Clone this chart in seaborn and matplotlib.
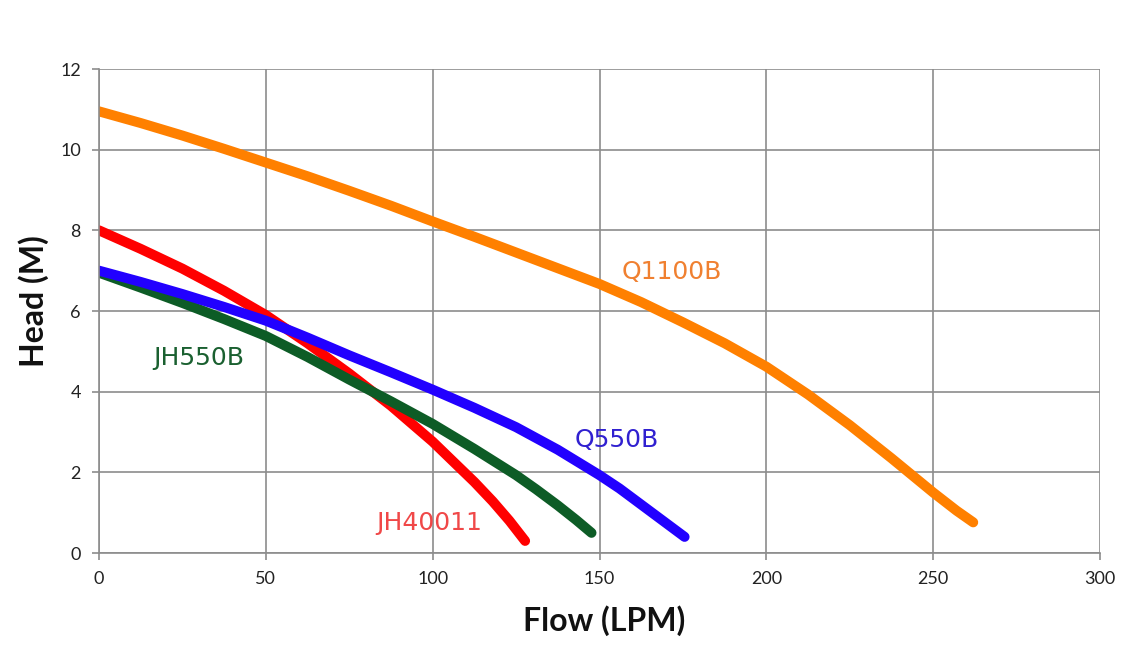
import matplotlib
matplotlib.use("Agg")
import matplotlib.pyplot as plt
import seaborn as sns
import pandas as pd

# Data
q1100b_flow = [0, 12.5, 25, 37.5, 50, 62.5, 75, 87.5, 100, 112.5, 125, 137.5, 150,
               162.5, 175, 187.5, 200, 212.5, 225, 237.5, 250, 257, 262]
q1100b_head = [10.95, 10.66, 10.35, 10.02, 9.68, 9.34, 8.98, 8.61, 8.22, 7.84, 7.45, 7.06, 6.67,
               6.22, 5.72, 5.2, 4.62, 3.93, 3.17, 2.35, 1.5, 1.05, 0.76]

jh40011_flow = [0, 12.5, 25, 37.5, 50, 62.5, 75, 87.5, 100, 106, 112.5, 118, 123, 127.7]
jh40011_head = [8.0, 7.54, 7.05, 6.5, 5.9, 5.2, 4.45, 3.65, 2.76, 2.28, 1.76, 1.28, 0.8, 0.3]

jh550b_flow = [0, 12.5, 25, 37.5, 50, 62.5, 75, 87.5, 100, 112.5, 125, 131, 137.5, 143, 147.6]
jh550b_head = [6.95, 6.58, 6.2, 5.8, 5.38, 4.86, 4.3, 3.76, 3.2, 2.58, 1.93, 1.58, 1.18, 0.82, 0.5]

q550b_flow = [0, 12.5, 25, 37.5, 50, 62.5, 75, 87.5, 100, 112.5, 125, 137.5, 150,
              156, 162.5, 169, 175.5]
q550b_head = [7.0, 6.72, 6.42, 6.1, 5.76, 5.34, 4.9, 4.48, 4.05, 3.6, 3.12, 2.56, 1.93,
              1.6, 1.2, 0.8, 0.4]

x_ticks = [0, 50, 100, 150, 200, 250, 300]
y_ticks = [0, 2, 4, 6, 8, 10, 12]

series = [
    ("Q1100B", q1100b_flow, q1100b_head, "#FF8000", "#F08030", (156.5, 6.97)),
    ("JH40011", jh40011_flow, jh40011_head, "#FF0000", "#F04848", (83, 0.74)),
    ("JH550B", jh550b_flow, jh550b_head, "#0D5C26", "#1A6030", (16.2, 4.83)),
    ("Q550B", q550b_flow, q550b_head, "#2200FF", "#3020D0", (142.6, 2.8)),
]

sns.set_theme(style="white")
plt.rcParams['font.family'] = ['DejaVu Sans']

fig = plt.figure(figsize=(11.3, 6.48), dpi=100)
ax = fig.add_axes([99/1130, 1 - 553/648, (1100 - 99)/1130, (553 - 69)/648])

for name, fx, hy, col, lcol, pos in series:
    df = pd.DataFrame({"flow": fx, "head": hy})
    sns.lineplot(data=df, x="flow", y="head", ax=ax, color=col, linewidth=7.2,
                 sort=False, solid_capstyle="round", solid_joinstyle="round")
    ax.text(pos[0], pos[1], name, color=lcol, fontsize=18, ha="left", va="center",
            family=["DejaVu Sans"])

ax.set_xlim(0, 300)
ax.set_ylim(0, 12)
ax.set_xticks(x_ticks)
ax.set_yticks(y_ticks)
ax.set_xticklabels([str(v) for v in x_ticks])
ax.set_yticklabels([str(v) for v in y_ticks])
ax.grid(True, color="#8c8c8c", linewidth=1.2)
ax.set_axisbelow(True)
for s in ["top", "right"]:
    ax.spines[s].set_visible(False)
for s in ["left", "bottom"]:
    ax.spines[s].set_color("#8c8c8c")
    ax.spines[s].set_linewidth(1.2)
ax.tick_params(axis="both", which="major", direction="out", length=5, width=1.2,
               color="#8c8c8c", labelsize=13, labelcolor="#222222", pad=8)
ax.tick_params(left=True, bottom=True)
for lab in ax.get_xticklabels() + ax.get_yticklabels():
    lab.set_family(["Lato", "DejaVu Sans"])

ax.set_xlabel("Flow (LPM)", fontsize=23, fontweight="bold", family=["Lato", "DejaVu Sans"],
              color="#111111")
ax.set_ylabel("Head (M)", fontsize=23, fontweight="bold", family=["Lato", "DejaVu Sans"],
              color="#111111")
ax.xaxis.set_label_coords(0.5045, -0.108)
ax.yaxis.set_label_coords(-0.050, 0.52)

fig.savefig("out.png", dpi=100)
